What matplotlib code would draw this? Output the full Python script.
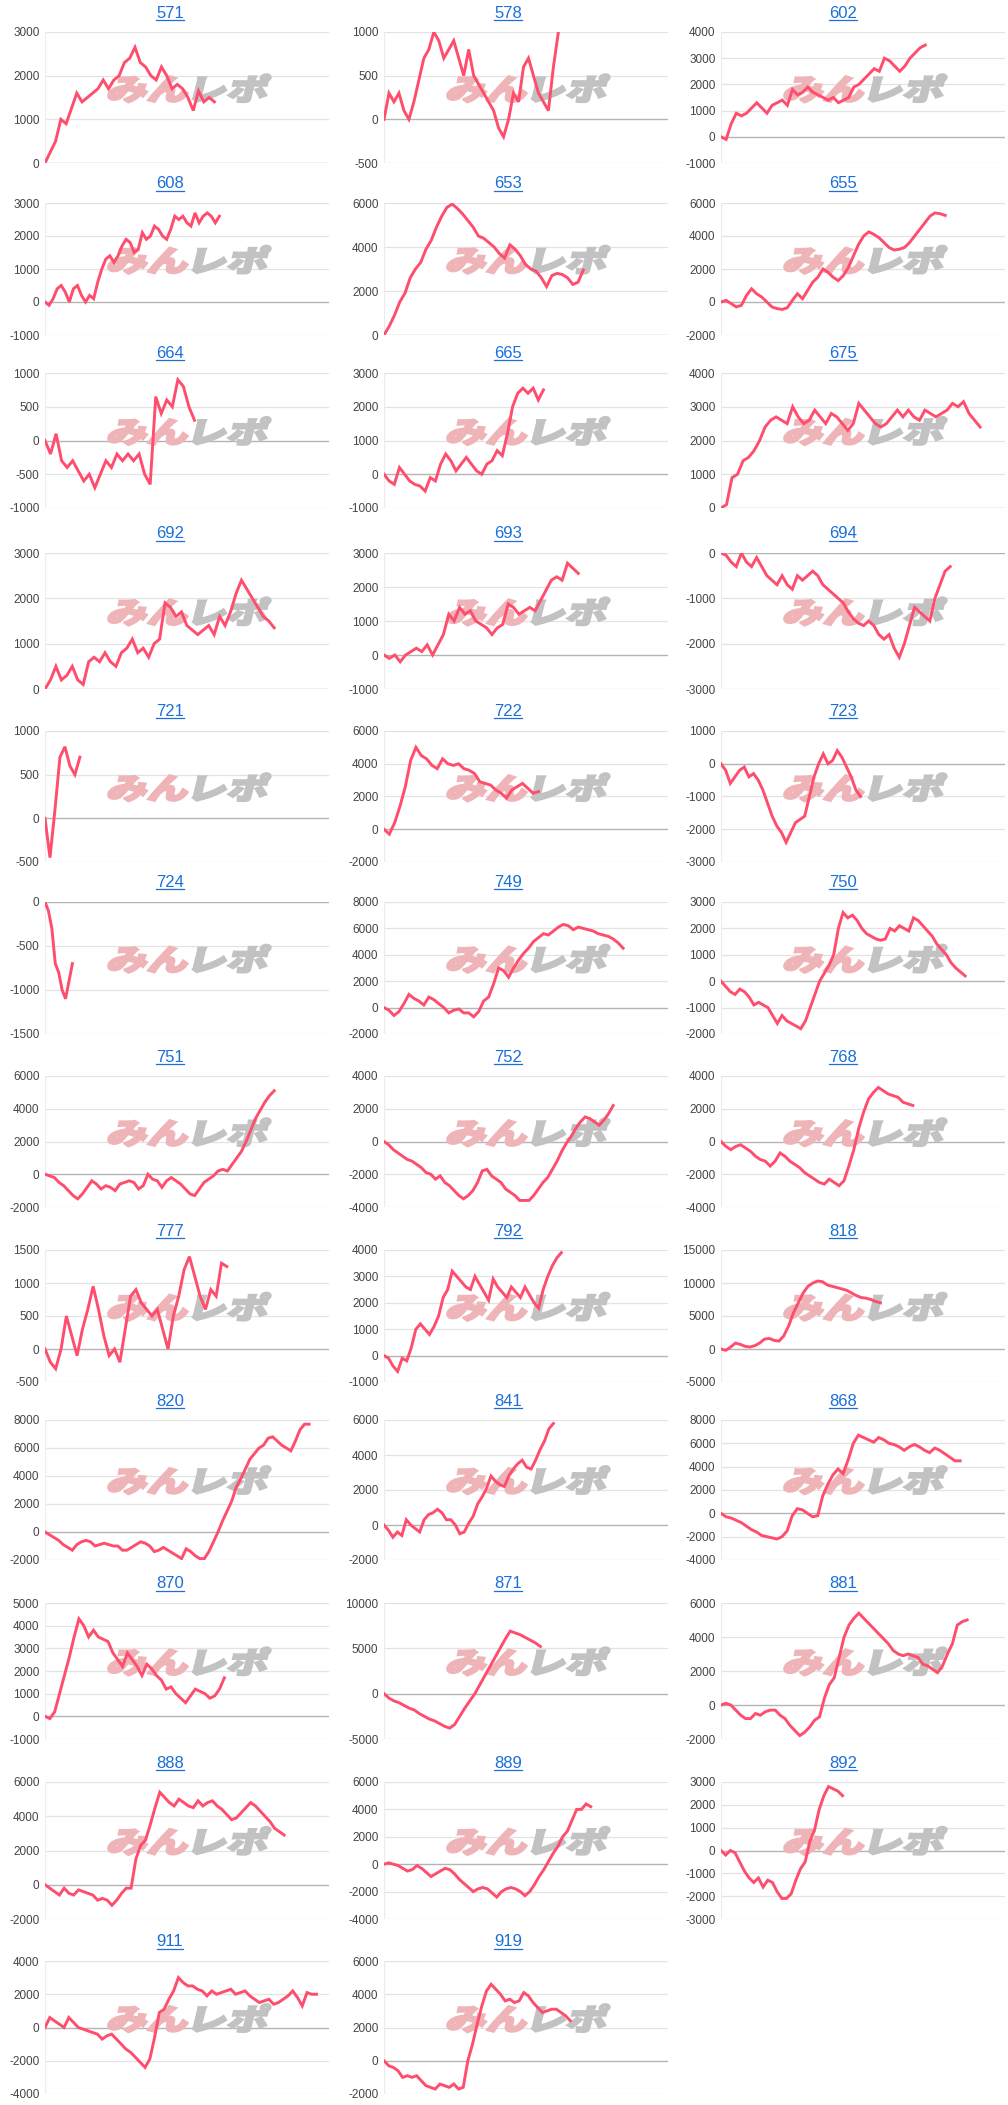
import numpy as np
import matplotlib
matplotlib.use("Agg")
import matplotlib.pyplot as plt
from matplotlib.textpath import TextPath
from matplotlib.patches import PathPatch
from matplotlib.font_manager import FontProperties
from matplotlib.transforms import Affine2D, IdentityTransform
from matplotlib.lines import Line2D

plt.rcParams['font.family'] = ['Liberation Sans', 'DejaVu Sans']

# machine numbers (panel titles)
machines = ['571', '578', '602', '608', '653', '655', '664', '665', '675',
            '692', '693', '694', '721', '722', '723', '724', '749', '750',
            '751', '752', '768', '777', '792', '818', '820', '841', '868',
            '870', '871', '881', '888', '889', '892', '911', '919']

# cumulative balance per machine
s571 = [0, 250, 500, 1000, 900, 1250, 1600, 1400, 1500, 1600, 1700, 1900, 1700, 1900, 2000, 2300, 2400,
        2650, 2300, 2200, 2000, 1900, 2200, 2000, 1700, 1800, 1700, 1500, 1200, 1650, 1400, 1500, 1400]
s578 = [0, 300, 200, 300, 100, 0, 200, 450, 700, 800, 1000, 900, 700, 800, 900, 700, 500, 800, 500, 400,
        300, 200, 100, -100, -200, 0, 300, 200, 600, 700, 500, 300, 200, 100, 600, 1000]
s602 = [0, -100, 500, 900, 800, 900, 1100, 1300, 1100, 900, 1200, 1300, 1400, 1200, 1800, 1600, 1700, 1900,
        1700, 1600, 1500, 1400, 1500, 1300, 1400, 1500, 1900, 2000, 2200, 2400, 2600, 2500, 3000, 2900, 2700,
        2500, 2700, 3000, 3200, 3400, 3500]
s608 = [0, -100, 100, 400, 500, 300, 0, 400, 500, 200, 0, 200, 100, 600, 1000, 1300, 1400, 1200, 1400, 1700,
        1900, 1800, 1500, 1600, 2100, 1900, 2000, 2300, 2200, 2000, 1900, 2200, 2600, 2500, 2600, 2400, 2300,
        2700, 2400, 2600, 2700, 2600, 2400, 2600]
s653 = [0, 400, 900, 1500, 1900, 2600, 3000, 3300, 3900, 4300, 4900, 5400, 5800, 5950, 5750, 5500, 5200, 4900,
        4500, 4400, 4200, 4000, 3700, 3500, 4100, 3900, 3600, 3200, 3000, 2900, 2600, 2200, 2700, 2800, 2750,
        2600, 2300, 2400, 2950]
s655 = [0, 100, -100, -300, -200, 400, 800, 500, 300, 0, -300, -400, -450, -350, 100, 500, 200, 700, 1200, 1500,
        2000, 1800, 1500, 1300, 1600, 2100, 2800, 3500, 4000, 4250, 4100, 3900, 3600, 3300, 3150, 3200, 3300,
        3600, 4000, 4400, 4800, 5200, 5400, 5350, 5250]
s664 = [0, -200, 100, -300, -400, -300, -450, -600, -500, -700, -500, -300, -400, -200, -300, -200, -300, -200,
        -500, -650, 650, 400, 600, 500, 900, 800, 500, 300]
s665 = [0, -200, -300, 200, 0, -200, -300, -350, -500, -100, -200, 300, 600, 400, 100, 300, 500, 300, 100, 0,
        300, 400, 700, 550, 1200, 2000, 2400, 2550, 2400, 2550, 2200, 2500]
s675 = [0, 100, 900, 1000, 1400, 1500, 1700, 2000, 2400, 2600, 2700, 2600, 2500, 3000, 2700, 2500, 2600, 2900,
        2700, 2500, 2800, 2700, 2500, 2300, 2500, 3100, 2900, 2700, 2500, 2400, 2500, 2700, 2900, 2700, 2900,
        2700, 2600, 2900, 2800, 2700, 2800, 2900, 3100, 3000, 3150, 2800, 2600, 2400]
s692 = [0, 200, 500, 200, 300, 500, 200, 100, 600, 700, 600, 800, 600, 500, 800, 900, 1100, 800, 900, 700, 1000,
        1100, 1900, 1800, 1600, 1700, 1400, 1300, 1200, 1300, 1400, 1200, 1600, 1400, 1700, 2100, 2400, 2200,
        2000, 1800, 1600, 1500, 1350]
s693 = [0, -100, 0, -200, 0, 100, 200, 100, 300, 0, 300, 600, 1200, 1000, 1400, 1200, 1300, 1000, 900, 800, 600,
        800, 900, 1500, 1400, 1200, 1300, 1400, 1300, 1600, 1900, 2200, 2300, 2200, 2700, 2550, 2400]
s694 = [0, -50, -200, -300, 0, -200, -300, -100, -300, -500, -600, -700, -500, -700, -800, -500, -600, -500, -400,
        -500, -700, -800, -900, -1000, -1100, -1300, -1450, -1550, -1600, -1500, -1600, -1800, -1900, -1800,
        -2100, -2300, -2000, -1600, -1200, -1300, -1400, -1500, -1000, -700, -400, -300]
s721 = [0, -450, 100, 700, 820, 600, 500, 700]
s722 = [0, -300, 400, 1400, 2600, 4200, 5000, 4500, 4300, 3900, 3700, 4300, 4000, 3900, 4000, 3700, 3600, 3400,
        2900, 2800, 2700, 2400, 2200, 1900, 2400, 2600, 2800, 2500, 2200, 2300]
s723 = [0, -200, -600, -400, -200, -100, -400, -300, -500, -800, -1200, -1600, -1900, -2100, -2400, -2100, -1800,
        -1700, -1600, -1000, -400, 0, 300, 0, 100, 400, 200, -100, -400, -800, -1000]
s724 = [0, -100, -300, -700, -800, -1000, -1100, -900, -700]
s749 = [0, -200, -600, -300, 300, 1000, 700, 500, 200, 800, 600, 300, 0, -400, -200, -100, -400, -400, -700, -300,
        500, 800, 1800, 3000, 2800, 2300, 3000, 3600, 4100, 4500, 5000, 5300, 5600, 5500, 5800, 6100, 6300, 6200,
        5900, 6100, 6000, 5900, 5800, 5600, 5500, 5400, 5200, 4900, 4500]
s750 = [0, -200, -400, -500, -300, -400, -600, -900, -800, -900, -1000, -1300, -1600, -1300, -1500, -1600, -1700,
        -1800, -1500, -1000, -500, 0, 300, 600, 1000, 2000, 2600, 2400, 2500, 2300, 2000, 1800, 1700, 1600, 1550,
        1600, 2000, 1900, 2100, 2000, 1900, 2400, 2300, 2100, 1900, 1700, 1400, 1200, 1000, 700, 500, 350, 200]
s751 = [0, -100, -200, -500, -700, -1000, -1300, -1500, -1200, -800, -400, -600, -900, -700, -800, -1000, -600,
        -500, -400, -500, -900, -700, 0, -300, -400, -800, -400, -200, -400, -600, -900, -1200, -1300, -900, -500,
        -300, -100, 200, 300, 200, 600, 1000, 1400, 2000, 2700, 3400, 3900, 4400, 4800, 5100]
s752 = [0, -200, -500, -700, -900, -1100, -1200, -1400, -1600, -1900, -2000, -2300, -2100, -2500, -2700, -3000,
        -3300, -3500, -3300, -3000, -2500, -1800, -1700, -2100, -2300, -2500, -2900, -3100, -3300, -3600, -3600,
        -3600, -3300, -2900, -2500, -2200, -1700, -1200, -600, -100, 300, 800, 1200, 1500, 1400, 1200, 1000, 1300,
        1700, 2200]
s768 = [0, -300, -500, -300, -200, -400, -600, -900, -1100, -1200, -1500, -1200, -700, -900, -1200, -1400, -1600,
        -1900, -2100, -2300, -2500, -2600, -2300, -2500, -2700, -2400, -1500, -500, 800, 1800, 2600, 3000, 3300,
        3100, 2900, 2800, 2700, 2400, 2300, 2200]
s777 = [0, -200, -300, 0, 500, 200, -100, 300, 600, 950, 600, 200, -100, 0, -200, 300, 800, 900, 700, 600, 500,
        600, 300, 0, 500, 800, 1200, 1400, 1100, 800, 600, 900, 800, 1300, 1250]
s792 = [0, -100, -400, -600, -100, -200, 300, 1000, 1200, 1000, 800, 1100, 1500, 2200, 2500, 3200, 3000, 2800,
        2600, 2500, 3000, 2700, 2400, 2100, 2900, 2600, 2400, 2200, 2600, 2400, 2200, 2600, 2300, 2000, 1800, 2500,
        3000, 3400, 3700, 3900]
s818 = [0, -200, 300, 900, 700, 400, 300, 500, 900, 1500, 1600, 1300, 1200, 2000, 3500, 5500, 7000, 8500, 9500,
        10000, 10300, 10200, 9700, 9500, 9300, 9100, 8900, 8500, 8100, 7800, 7700, 7500, 7200, 7000]
s820 = [0, -200, -400, -600, -900, -1100, -1300, -900, -700, -600, -700, -1000, -900, -800, -900, -1000, -1000,
        -1300, -1300, -1100, -900, -700, -800, -1000, -1400, -1300, -1100, -1300, -1500, -1700, -1900, -1200,
        -1400, -1700, -1900, -1900, -1400, -700, 0, 800, 1500, 2200, 3200, 3800, 4500, 5200, 5600, 6000, 6200,
        6700, 6800, 6500, 6200, 6000, 5800, 6500, 7300, 7700, 7700]
s841 = [0, -300, -700, -400, -600, 300, 0, -200, -400, 300, 600, 700, 900, 700, 300, 300, 0, -500, -400, 100, 500,
        1200, 1600, 2100, 2800, 2500, 2300, 2200, 2800, 3200, 3500, 3700, 3300, 3200, 3700, 4300, 4800, 5500, 5800]
s868 = [0, -300, -400, -600, -800, -1100, -1400, -1600, -1900, -2000, -2100, -2200, -2000, -1500, -200, 400, 300,
        0, -300, -200, 1500, 2500, 3300, 3800, 3400, 4600, 6000, 6700, 6500, 6300, 6100, 6500, 6300, 6000, 5900,
        5700, 5400, 5700, 5900, 5700, 5400, 5200, 5600, 5400, 5100, 4800, 4500, 4500]
s870 = [0, -100, 200, 1000, 1800, 2600, 3500, 4300, 4000, 3500, 3800, 3500, 3400, 3300, 2800, 2500, 2200, 2800,
        2500, 2200, 1800, 2300, 2100, 1800, 1600, 1200, 1300, 1000, 800, 600, 900, 1200, 1100, 1000, 800, 900,
        1200, 1700]
s871 = [0, -500, -800, -1000, -1300, -1600, -1800, -2200, -2500, -2800, -3000, -3300, -3600, -3800, -3400, -2500,
        -1600, -800, 0, 1000, 2000, 3000, 4000, 5000, 6000, 6900, 6700, 6500, 6200, 5900, 5600, 5200]
s881 = [0, 100, 0, -300, -600, -800, -800, -500, -600, -400, -300, -300, -600, -800, -1200, -1500, -1800, -1600,
        -1300, -900, -700, 400, 1200, 1600, 2800, 4000, 4700, 5100, 5400, 5100, 4800, 4500, 4200, 3900, 3600,
        3200, 3000, 2900, 3000, 2900, 2800, 2400, 2300, 2100, 1900, 2300, 3000, 3600, 4700, 4900, 5000]
s888 = [0, -200, -400, -600, -200, -500, -600, -300, -400, -500, -600, -900, -800, -900, -1200, -900, -500, -200,
        -200, 1500, 2300, 2600, 3500, 4500, 5400, 5100, 4800, 4600, 5000, 4800, 4600, 4500, 4900, 4600, 4800,
        4900, 4600, 4400, 4100, 3800, 3900, 4200, 4500, 4800, 4600, 4300, 4000, 3700, 3300, 3100, 2900]
s889 = [0, 100, 0, -100, -300, -500, -400, -100, -300, -600, -900, -700, -500, -300, -400, -700, -1100, -1400,
        -1700, -2000, -1800, -1700, -1800, -2100, -2400, -2000, -1800, -1700, -1800, -2000, -2300, -2000, -1500,
        -900, -400, 200, 800, 1300, 2000, 2400, 3200, 4000, 4000, 4400, 4200]
s892 = [0, -200, 0, -100, -500, -900, -1200, -1400, -1200, -1600, -1300, -1400, -1800, -2100, -2100, -1900,
        -1300, -800, -500, 400, 900, 1800, 2400, 2800, 2700, 2600, 2400]
s911 = [0, 600, 400, 200, 0, 600, 300, 0, -100, -200, -300, -400, -700, -500, -400, -700, -1000, -1300, -1500,
        -1800, -2100, -2400, -1900, -600, 900, 1100, 1700, 2200, 3000, 2700, 2500, 2500, 2300, 2200, 1900, 2200,
        2000, 2100, 2200, 2300, 2000, 2100, 2200, 1900, 1700, 1500, 1600, 1700, 1400, 1500, 1700, 1900, 2200,
        1800, 1300, 2100, 2000, 2000]
s919 = [0, -300, -400, -600, -1000, -900, -1000, -900, -1200, -1500, -1600, -1700, -1400, -1500, -1600, -1400,
        -1700, -1600, 0, 1000, 2200, 3300, 4200, 4600, 4300, 4000, 3600, 3700, 3500, 3600, 4100, 3900, 3500,
        3200, 2900, 3000, 3100, 3100, 2900, 2700, 2400]

series = [s571, s578, s602, s608, s653, s655, s664, s665, s675, s692, s693, s694,
          s721, s722, s723, s724, s749, s750, s751, s752, s768, s777, s792, s818,
          s820, s841, s868, s870, s871, s881, s888, s889, s892, s911, s919]

# how many days each series covers (x axis holds 57 days)
days = [34, 35, 41, 35, 40, 45, 30, 32, 52, 46, 39, 46, 7, 31, 28, 5.5, 48, 49,
        46, 46, 38.5, 36.5, 35.6, 32, 53, 34, 48, 36, 31.4, 49.4, 48, 41.5, 24.4, 54.5, 37.4]

y_lo = [0, -500, -1000, -1000, 0, -2000, -1000, -1000, 0, 0, -1000, -3000,
        -500, -2000, -3000, -1500, -2000, -2000, -2000, -4000, -4000, -500, -1000, -5000,
        -2000, -2000, -4000, -1000, -5000, -2000, -2000, -4000, -3000, -4000, -2000]
y_hi = [3000, 1000, 4000, 3000, 6000, 6000, 1000, 3000, 4000, 3000, 3000, 0,
        1000, 6000, 1000, 0, 8000, 3000, 6000, 4000, 4000, 1500, 4000, 15000,
        8000, 6000, 8000, 5000, 10000, 6000, 6000, 6000, 3000, 4000, 6000]
y_step = [1000, 500, 1000, 1000, 2000, 2000, 500, 1000, 1000, 1000, 1000, 1000,
          500, 2000, 1000, 500, 2000, 1000, 2000, 2000, 2000, 500, 1000, 5000,
          2000, 2000, 2000, 1000, 5000, 2000, 2000, 2000, 1000, 2000, 2000]

X_DAYS = 57

W, H = 1008, 2105
fig = plt.figure(figsize=(W / 100, H / 100), dpi=100)
fig.patch.set_facecolor('white')

col_left = [45, 384, 721]
col_title = [170, 508, 843]
plot_w = 284
row_top = [32, 203, 373, 553, 731, 902, 1076, 1250, 1420, 1603, 1782, 1961]
row_bot = [163, 335, 508, 689, 862, 1034, 1207, 1382, 1560, 1739, 1919, 2094]

line_color = '#ff4d6d'
title_color = '#1a6fd8'

# watermark paths
wm_font = FontProperties(family='Noto Sans CJK JP', weight='black')
wm_pink = TextPath((0, 0), 'みん', size=1, prop=wm_font)
wm_gray = TextPath((1.95, 0), 'レポ', size=1, prop=wm_font)
wm_x0 = wm_pink.get_extents().x0
wm_x1 = wm_gray.get_extents().x1
wm_y0 = min(wm_pink.get_extents().y0, wm_gray.get_extents().y0)
wm_y1 = max(wm_pink.get_extents().y1, wm_gray.get_extents().y1)

titles = []
for i, name in enumerate(machines):
    r, c = divmod(i, 3)
    top, bot = row_top[r], row_bot[r]
    left = col_left[c]
    ax = fig.add_axes([left / W, 1 - bot / H, plot_w / W, (bot - top) / H])
    ax.set_facecolor('none')

    vals = series[i]
    x = np.linspace(0, days[i], len(vals))

    ticks = np.arange(y_lo[i], y_hi[i] + 1, y_step[i])
    for t in ticks:
        if t == 0:
            ax.axhline(t, color='#b4b4b4', lw=1.0, zorder=1.2)
        else:
            ax.axhline(t, color='#e3e3e3', lw=0.9, zorder=1)
    ax.axvline(0, color='#ececec', lw=0.9, zorder=1)

    ax.plot(x, vals, color=line_color, lw=2.1, zorder=3, solid_joinstyle='miter')
    ax.set_xlim(0, X_DAYS)
    ax.set_ylim(y_lo[i], y_hi[i])
    ax.set_yticks(ticks)
    ax.set_yticklabels([str(int(t)) for t in ticks])
    ax.set_xticks([])
    ax.tick_params(axis='y', length=0, pad=4, labelsize=8.5, labelcolor='#444444')
    for sp in ax.spines.values():
        sp.set_visible(False)

    # watermark, centred a bit above the middle of the plot area
    cx = left + plot_w / 2 + 2
    cy = H - (top + 0.43 * (bot - top))
    sx, sy = 158 / (wm_x1 - wm_x0), 28 / (wm_y1 - wm_y0)
    tr = (Affine2D().translate(-(wm_x0 + wm_x1) / 2, -(wm_y0 + wm_y1) / 2)
          .scale(sx, sy).skew_deg(14, 0).translate(cx, cy))
    for p, col in ((wm_pink, '#eeb4b8'), (wm_gray, '#c2c2c2')):
        patch = PathPatch(p, facecolor=col, edgecolor=col, lw=1.6, transform=tr,
                          zorder=2, clip_on=False)
        ax.add_patch(patch)

    t = fig.text(col_title[c] / W, 1 - (top - 19) / H, name, ha='center', va='center',
                 fontsize=12, color=title_color)
    titles.append(t)

# underline the titles like links
fig.canvas.draw()
for t in titles:
    bb = t.get_window_extent()
    ln = Line2D([bb.x0, bb.x1], [bb.y0 + 1, bb.y0 + 1], color=title_color, lw=0.9,
                transform=IdentityTransform())
    fig.add_artist(ln)

fig.savefig('out.png', dpi=100, facecolor='white')
